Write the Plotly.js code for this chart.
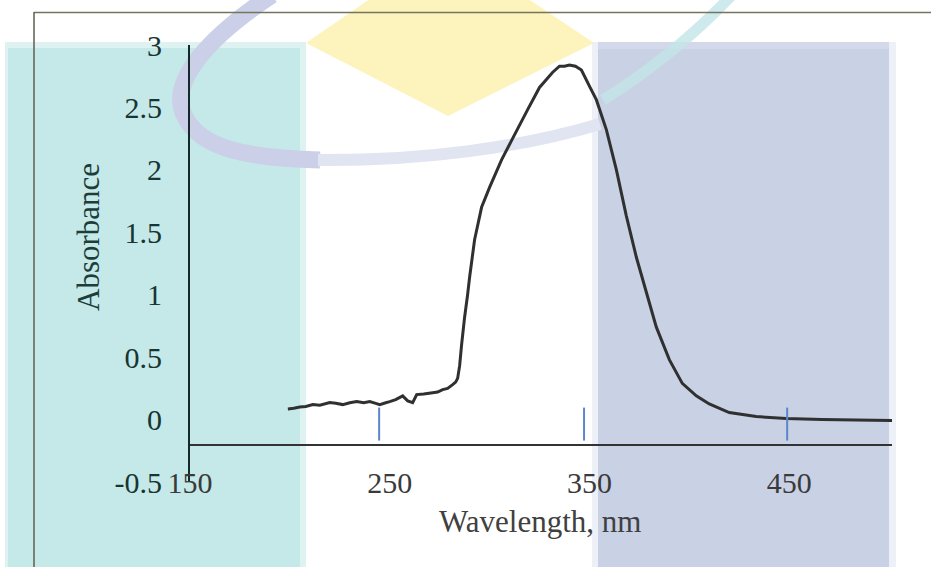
<!DOCTYPE html>
<html><head><meta charset="utf-8">
<script src="https://cdn.plot.ly/plotly-3.0.1.min.js"></script>
<style>html,body{margin:0;padding:0;background:#fff}#chart{width:931px;height:567px}</style>
</head><body><div id="chart"></div>
<script>
// ---- data ----
const wavelength = [199, 202, 205, 208, 211.5, 215, 220, 223, 226.5, 230, 233.5, 237, 240, 243, 245, 248, 250, 253, 256.5, 259, 261.5, 263.5, 267, 271.5, 274, 276.5, 279, 281.5, 283, 284, 285, 286, 287.5, 289, 290, 292.5, 296, 300, 306, 311.5, 319, 325, 331.5, 335, 337.5, 340, 343, 346, 350, 353.5, 358.5, 363.5, 368.5, 373.5, 378.5, 383.5, 390, 396.5, 403.5, 410, 420, 433.5, 448.5, 466.5, 483.5, 501.5];
const absorbance = [0.085, 0.09, 0.10, 0.105, 0.12, 0.115, 0.136, 0.13, 0.12, 0.135, 0.144, 0.135, 0.144, 0.13, 0.12, 0.135, 0.144, 0.16, 0.19, 0.15, 0.136, 0.20, 0.205, 0.215, 0.22, 0.24, 0.25, 0.28, 0.30, 0.33, 0.43, 0.60, 0.82, 1.00, 1.14, 1.44, 1.70, 1.86, 2.08, 2.25, 2.48, 2.66, 2.78, 2.83, 2.83, 2.84, 2.83, 2.80, 2.67, 2.56, 2.32, 2.00, 1.63, 1.30, 1.02, 0.74, 0.48, 0.29, 0.19, 0.125, 0.056, 0.024, 0.008, 0.0, -0.003, -0.008];
const xTickVals = [150, 250, 350, 450];
const xTickText = ['150', '250', '350', '450'];
const yTickVals = [-0.5, 0, 0.5, 1, 1.5, 2, 2.5, 3];
const yTickText = ['-0.5', '0', '0.5', '1', '1.5', '2', '2.5', '3'];
const markerNm = [244.7, 347.3, 449];
const xTitle = 'Wavelength, nm';
const yTitle = 'Absorbance';

// ---- geometry helpers for the background watermark ----
const W = 931, H = 567, ML = 190, MR = 39, MT = 45, MB = 85;
const PW = W - ML - MR, PH = H - MT - MB;
const px = x => (x - ML) / PW;
const py = y => (H - MB - y) / PH;
function path(cmds) {
  return cmds.map(c => {
    const k = c[0], a = c.slice(1), out = [];
    for (let i = 0; i < a.length; i += 2) out.push(px(a[i]).toFixed(4) + ',' + py(a[i + 1]).toFixed(4));
    return k + out.join(' ');
  }).join(' ') + (cmds.closed ? ' Z' : '');
}
function rect(x0, y0, x1, y1, color) {
  return {type: 'rect', xref: 'paper', yref: 'paper', x0: px(x0), x1: px(x1), y0: py(y1), y1: py(y0),
    fillcolor: color, line: {width: 0}, layer: 'below'};
}
function line(x0, y0, x1, y1, color, w) {
  return {type: 'line', xref: 'paper', yref: 'paper', x0: px(x0), x1: px(x1), y0: py(y0), y1: py(y1),
    line: {color: color, width: w}, layer: 'below'};
}
const diamond = [['M', 306, 43], ['L', 448, -55], ['L', 594, 43], ['L', 448, 116]];
diamond.closed = true;

const shapes = [
  rect(5, 42, 306, 567, '#ddf2f1'),
  rect(8, 48, 300, 567, '#c5e9e8'),
  rect(592, 42, 896, 567, '#eef0f7'),
  rect(598, 42, 889, 567, '#d3d9ea'),
  rect(598, 49, 889, 567, '#c9d1e5'),
  {type: 'path', xref: 'paper', yref: 'paper', path: path(diamond), fillcolor: '#fdf4bd', line: {width: 0}, layer: 'below'},
  {type: 'path', xref: 'paper', yref: 'paper', layer: 'below',
    path: path([['M', 272, -5], ['C', 212, 35, 168, 80, 184, 115], ['C', 200, 150, 250, 158, 320, 160]]),
    line: {color: '#cbcfe7', width: 17}},
  {type: 'path', xref: 'paper', yref: 'paper', layer: 'below',
    path: path([['M', 318, 160], ['C', 420, 161, 520, 148, 600, 124]]),
    line: {color: '#e1e4f1', width: 12}},
  {type: 'path', xref: 'paper', yref: 'paper', layer: 'below', opacity: 0.8,
    path: path([['M', 732, -5], ['Q', 675, 55, 603, 100]]),
    line: {color: '#c3e6e8', width: 11}},
  line(34, 12.5, 931, 12.5, '#74745f', 1.5),
  line(34, 12, 34, 567, '#5e5e50', 1.5)
];
// blue marker ticks above the axis
markerNm.forEach(v => shapes.push({type: 'line', xref: 'x', yref: 'y', x0: v, x1: v, y0: -0.168, y1: 0.096,
  line: {color: '#5b86c9', width: 2}, layer: 'above'}));

const annotations = [
  {xref: 'paper', yref: 'paper', x: px(540), y: py(521), xanchor: 'center', yanchor: 'middle', showarrow: false,
    text: xTitle, font: {family: 'Liberation Serif, Times New Roman, serif', size: 31, color: '#404040'}},
  {xref: 'paper', yref: 'paper', x: px(88), y: py(237), xanchor: 'center', yanchor: 'middle', showarrow: false,
    textangle: -90, text: yTitle, font: {family: 'Liberation Serif, Times New Roman, serif', size: 31, color: '#1c3d3a'}}
];

const trace = {x: wavelength, y: absorbance, type: 'scatter', mode: 'lines',
  line: {color: '#303030', width: 3, simplify: false}, hoverinfo: 'skip'};

const layout = {
  width: W, height: H,
  margin: {l: ML, r: MR, t: MT, b: MB, pad: 0},
  paper_bgcolor: '#ffffff', plot_bgcolor: 'rgba(0,0,0,0)',
  showlegend: false,
  font: {family: 'Liberation Serif, Times New Roman, serif', size: 30, color: '#3a3a3a'},
  xaxis: {range: [150, 501.5], anchor: 'free', position: 0.3 / 3.5,
    tickmode: 'array', tickvals: xTickVals, ticktext: xTickText,
    ticks: 'outside', ticklen: 11, tickcolor: 'rgba(0,0,0,0)',
    showline: true, linecolor: '#333333', linewidth: 2, showgrid: false, zeroline: false,
    tickfont: {size: 30, color: '#3a3a3a'}},
  yaxis: {range: [-0.5, 3], tickmode: 'array', tickvals: yTickVals, ticktext: yTickText,
    ticks: 'outside', ticklen: 20, tickcolor: 'rgba(0,0,0,0)',
    showline: true, linecolor: '#142a28', linewidth: 2, showgrid: false, zeroline: false,
    tickfont: {size: 30, color: '#173532'}},
  shapes: shapes,
  annotations: annotations
};
Plotly.newPlot('chart', [trace], layout, {displayModeBar: false, staticPlot: true});
</script></body></html>
